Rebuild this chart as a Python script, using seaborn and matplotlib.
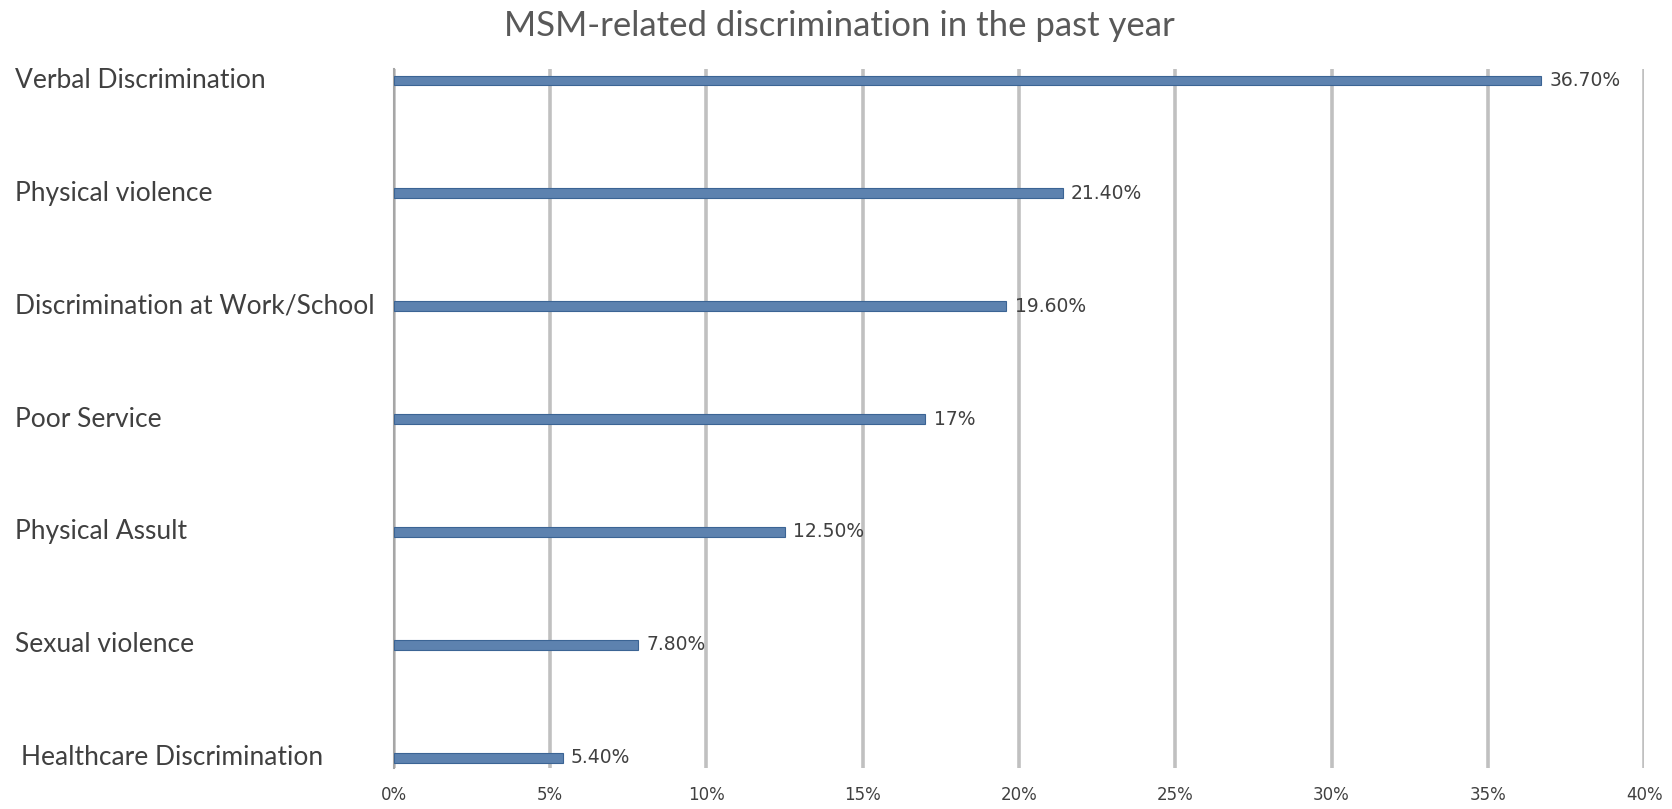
import matplotlib.pyplot as plt
import seaborn as sns
import pandas as pd
from matplotlib.ticker import FuncFormatter
from matplotlib.transforms import blended_transform_factory

# values
categories = [
    "Verbal Discrimination",
    "Physical violence",
    "Discrimination at Work/School",
    "Poor Service",
    "Physical Assult",
    "Sexual violence",
    "Healthcare Discrimination",
]
percent = [36.7, 21.4, 19.6, 17.0, 12.5, 7.8, 5.4]
value_labels = ["36.70%", "21.40%", "19.60%", "17%", "12.50%", "7.80%", "5.40%"]
x_ticks = [0, 5, 10, 15, 20, 25, 30, 35, 40]

df = pd.DataFrame({"category": categories, "percent": percent})

sns.set_style("white")
plt.rcParams["font.family"] = ["Lato", "DejaVu Sans"]

fig = plt.figure(figsize=(16.72, 8.09), dpi=100)
ax = fig.add_axes([0.2356, 0.0507, 0.7477, 0.864])

sns.barplot(df, x="percent", y="category", orient="h", color="#4f81bd",
            width=0.085, edgecolor="#3b6494", linewidth=0.8, ax=ax, zorder=3)

ax.set_xlim(0, 40)
ax.set_ylim(6.09, -0.1)
ax.set_xticks(x_ticks)
ax.xaxis.set_major_formatter(FuncFormatter(lambda v, p: f"{int(v)}%"))
ax.set_axisbelow(True)
ax.grid(visible=True, axis="x", color="#c0c0c0", linewidth=2.6, zorder=0)
ax.grid(visible=False, axis="y")
for s in ["top", "right", "bottom"]:
    ax.spines[s].set_visible(False)
ax.spines["left"].set_color("#a6a6a6")
ax.spines["left"].set_linewidth(1.5)
ax.tick_params(axis="x", length=0, pad=13, labelsize=12, labelcolor="#404040")
for lbl in ax.get_xticklabels():
    lbl.set_family("DejaVu Sans")
ax.tick_params(axis="y", length=0)
ax.set_yticklabels([])
ax.set_xlabel("")
ax.set_ylabel("")

# category labels, left aligned at figure edge
trans = blended_transform_factory(fig.transFigure, ax.transData)
for i, name in enumerate(categories):
    xpos = 0.0125 if i == len(categories) - 1 else 0.009
    ax.text(xpos, i, name, transform=trans,
            ha="left", va="center", fontsize=19, color="#404040")

for c in ax.containers:
    ax.bar_label(c, labels=value_labels, padding=6, fontsize=13.5,
                 color="#404040", family="DejaVu Sans")

fig.suptitle("MSM-related discrimination in the past year", x=0.502, y=0.988,
             va="top", fontsize=25, color="#595959")

fig.savefig("out.png", dpi=100)
